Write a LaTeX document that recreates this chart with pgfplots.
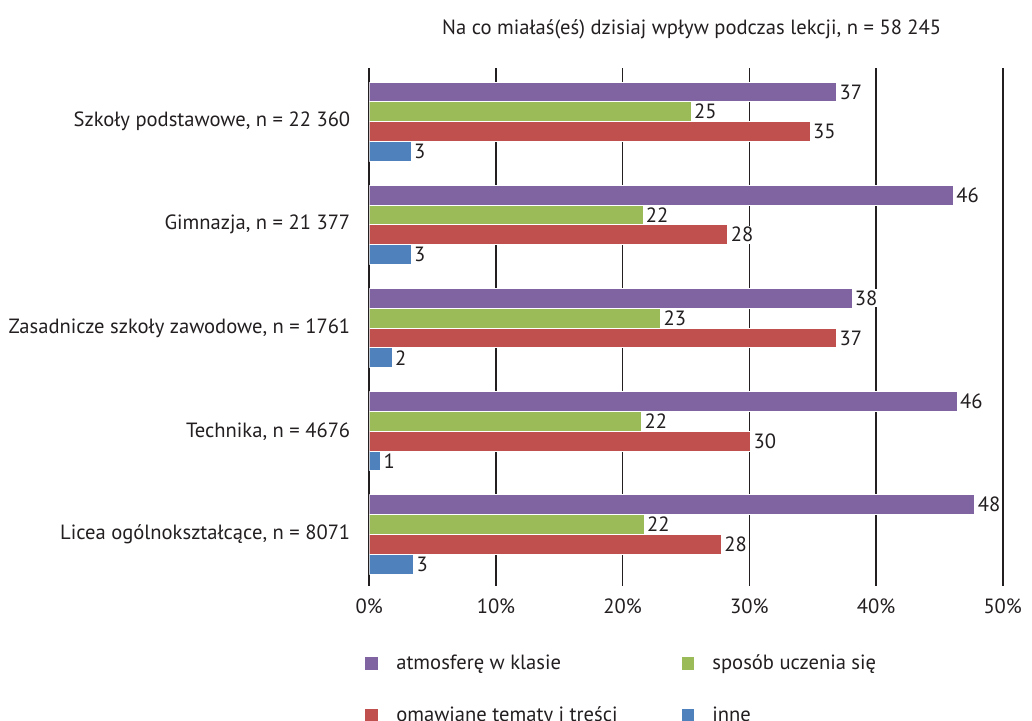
\documentclass[border=0pt]{standalone}
\usepackage{pgfplots}
\pgfplotsset{compat=1.18}
\usepackage{fontspec}
\setmainfont{PT Sans}

\definecolor{cPurple}{RGB}{128,100,162}
\definecolor{cGreen}{RGB}{155,187,89}
\definecolor{cRed}{RGB}{192,80,77}
\definecolor{cBlue}{RGB}{79,129,189}
\definecolor{ink}{RGB}{35,31,32}

\pgfplotsset{
  sq/.style={legend image code/.code={\fill[##1,draw=none] (0pt,-3.2pt) rectangle (6.4pt,3.2pt);}},
}

\begin{document}
\begin{tikzpicture}[font=\fontsize{10.3}{12}\selectfont, text=ink]
\begin{axis}[
  name=ax,
  xbar=0pt,
  bar width=0.192,
  scale only axis,
  width=316.7pt, height=259pt,
  xmin=0, xmax=50,
  ymin=-0.52, ymax=4.5,
  y dir=reverse,
  ytick={0,1,2,3,4},
  yticklabels={{Szkoły podstawowe, n = 22 360},{Gimnazja, n = 21 377},{Zasadnicze szkoły zawodowe, n = 1761},{Technika, n = 4676},{Licea ogólnokształcące, n = 8071}},
  xtick={0,10,20,30,40,50},
  xticklabel={\pgfmathprintnumber{\tick}\%},
  /pgf/number format/assume math mode=true,
  major tick length=0pt,
  axis line style={draw=none},
  xmajorgrids,
  grid style={ink, line width=0.8pt},
  yticklabel style={xshift=-6pt},
  xticklabel style={yshift=-3pt},
  title={Na co miałaś(eś) dzisiaj wpływ podczas lekcji, n = 58 245},
  title style={at={(0.509,1)}, anchor=center, yshift=13.5pt},
  point meta=explicit symbolic,
  nodes near coords,
  nodes near coords style={anchor=west, fill=white, inner sep=0.8pt, xshift=0.5pt},
  legend columns=2,
  legend cell align=left,
  legend style={at={(0,0)}, anchor=north west, xshift=-2.1pt, yshift=-32pt,
    draw=none, fill=none, inner sep=0pt, row sep=13.2pt,
    /tikz/every odd column/.append style={column sep=7pt},
    /tikz/every even column/.append style={column sep=30pt}},
]
\addplot[fill=cPurple, draw=white, line width=0.4pt, sq] coordinates {
  (36.9,0) [37] (46.1,1) [46] (38.1,2) [38] (46.4,3) [46] (47.8,4) [48]};
\addplot[fill=cGreen, draw=white, line width=0.4pt, sq] coordinates {
  (25.4,0) [25] (21.6,1) [22] (23.0,2) [23] (21.5,3) [22] (21.7,4) [22]};
\addplot[fill=cRed, draw=white, line width=0.4pt, sq] coordinates {
  (34.8,0) [35] (28.3,1) [28] (36.9,2) [37] (30.1,3) [30] (27.8,4) [28]};
\addplot[fill=cBlue, draw=white, line width=0.4pt, sq] coordinates {
  (3.3,0) [3] (3.3,1) [3] (1.8,2) [2] (0.9,3) [1] (3.5,4) [3]};
\legend{atmosferę w klasie, sposób uczenia się, omawiane tematy i treści, inne}
\end{axis}
\pgfresetboundingbox
\path[use as bounding box] ([xshift=-184.65pt,yshift=-67.5pt]ax.south west) rectangle ([xshift=331.35pt,yshift=34pt]ax.north west);
\end{tikzpicture}
\end{document}
